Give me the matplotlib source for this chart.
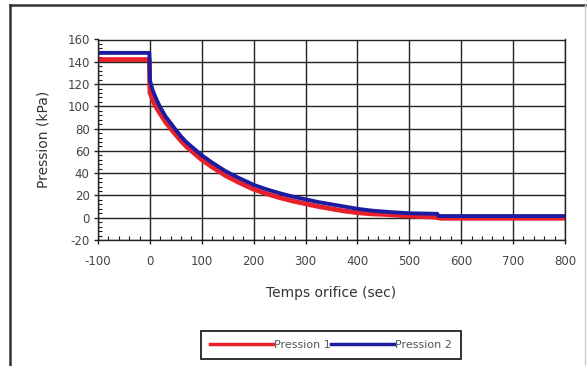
import matplotlib.pyplot as plt
from matplotlib.ticker import MultipleLocator
from matplotlib.lines import Line2D

# values (time in sec, pressure in kPa)
t1 = [-100, -1, 0, 2, 5, 10, 19, 30, 40, 48, 60, 70, 80, 90, 100, 120, 145, 170, 200,
      225, 250, 275, 300, 325, 350, 375, 400, 425, 450, 475, 500, 550, 560, 800]
p1 = [142, 142, 112, 110, 106, 101, 94, 86, 80, 75.5, 69, 64, 60, 56, 52, 45.5, 38, 32, 25.5,
      21.5, 18, 15, 12.5, 10, 8, 6, 4.5, 3.5, 3, 2.2, 1.5, 0.5, -0.5, -0.5]

t2 = [-100, -1, 0, 2, 5, 10, 19, 30, 40, 48, 60, 70, 80, 90, 100, 120, 145, 170, 200,
      225, 250, 275, 300, 325, 350, 375, 400, 425, 450, 475, 500, 554, 556, 800]
p2 = [148, 148, 123, 120, 115, 109, 100, 91, 85, 80, 73, 68, 64, 60, 56, 49.5, 42, 36, 29.5,
      25.5, 22, 19, 16.5, 14, 12, 10, 8, 6.5, 5.5, 4.7, 4, 3.5, 1.5, 1.5]

labels = ["Pression 1", "Pression 2"]
xticks = [-100, 0, 100, 200, 300, 400, 500, 600, 700, 800]
yticks = [-20, 0, 20, 40, 60, 80, 100, 120, 140, 160]

plt.rcParams['font.family'] = ['DejaVu Sans']
plt.rcParams['axes.unicode_minus'] = False

fig = plt.figure(figsize=(5.87, 3.66), dpi=100)
ax = fig.add_axes([98/587, 1-240/366, 467/587, 200.5/366])

ax.plot(t1, p1, color='#e8202a', lw=3.4, label=labels[0], solid_joinstyle='round')
ax.plot(t2, p2, color='#1c1ca0', lw=2.8, label=labels[1], solid_joinstyle='round')

ax.set_xlim(-100, 800)
ax.set_ylim(-20, 160)
ax.set_xticks(xticks)
ax.set_yticks(yticks)
ax.xaxis.set_minor_locator(MultipleLocator(20))
ax.yaxis.set_minor_locator(MultipleLocator(4))
ax.tick_params(which='major', direction='out', length=3, width=1, labelsize=8.5,
               labelcolor='#444444', color='#222222', pad=3)
ax.tick_params(axis='x', which='major', pad=8)
ax.tick_params(which='minor', direction='in', length=3, width=0.8, color='#222222')
ax.grid(True, which='major', color='#222222', lw=1)
ax.set_axisbelow(True)
for s in ax.spines.values():
    s.set_color('#222222')
    s.set_linewidth(1)

ax.set_xlabel("Temps orifice (sec)", fontsize=10, color='#333333', labelpad=13)
ax.set_ylabel("Pression (kPa)", fontsize=10, color='#333333', labelpad=12)

handles = [Line2D([], [], color='#e8202a', lw=2.5), Line2D([], [], color='#1c1ca0', lw=2.5)]
leg = fig.legend(handles, labels, loc='center', bbox_to_anchor=(331/587, 1-345/366),
                 ncol=2, fontsize=8, handlelength=5.6, handletextpad=0.1,
                 columnspacing=0.1, fancybox=False, edgecolor='#222222',
                 borderpad=0.8, borderaxespad=0, framealpha=1)
leg.get_frame().set_linewidth(1.3)
for txt in leg.get_texts():
    txt.set_color('#555555')

# outer chart frame
fig.add_artist(Line2D([10/587, 10/587], [0, 1-5/366], color='#333333', lw=1.8))
fig.add_artist(Line2D([10/587, 585/587], [1-5/366, 1-5/366], color='#333333', lw=1.8))
fig.add_artist(Line2D([585/587, 585/587], [0, 1-5/366], color='#cccccc', lw=1))

fig.savefig("out.png", dpi=100)
